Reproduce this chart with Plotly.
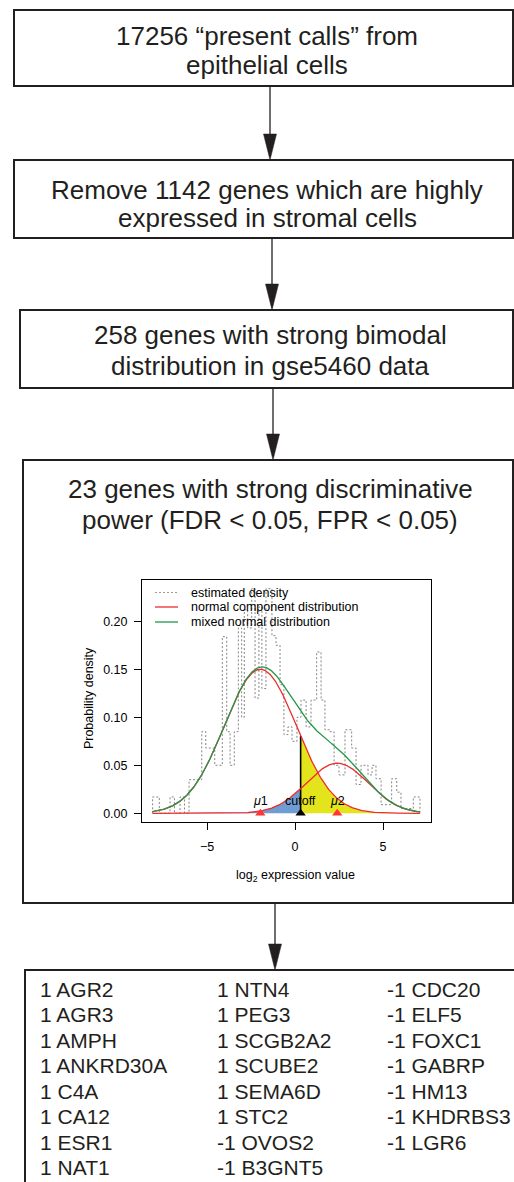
import numpy as np
import plotly.graph_objects as go

W, H = 514, 1182

# ---------------- data ----------------
box_lines = [
    ["17256 “present calls” from", "epithelial cells"],
    ["Remove 1142 genes which are highly", "expressed in stromal cells"],
    ["258 genes with strong bimodal", "distribution in gse5460 data"],
    ["23 genes with strong discriminative", "power (FDR < 0.05, FPR < 0.05)"],
]
genes_col1 = ["1 AGR2", "1 AGR3", "1 AMPH", "1 ANKRD30A", "1 C4A", "1 CA12", "1 ESR1", "1 NAT1"]
genes_col2 = ["1 NTN4", "1 PEG3", "1 SCGB2A2", "1 SCUBE2", "1 SEMA6D", "1 STC2", "-1 OVOS2", "-1 B3GNT5"]
genes_col3 = ["-1 CDC20", "-1 ELF5", "-1 FOXC1", "-1 GABRP", "-1 HM13", "-1 KHDRBS3", "-1 LGR6"]

legend_labels = ["estimated density", "normal component distribution", "mixed normal distribution"]

# estimated density (step outline): bin edges and heights
hist_edges = [-8.09, -7.71, -7.10, -6.85, -6.53, -6.28, -6.02, -5.30, -5.07, -4.56, -4.13,
              -3.88, -3.69, -3.45, -3.22, -3.03, -2.88, -2.69, -2.46, -2.27, -2.05, -1.88,
              -1.65, -1.31, -1.08, -0.85, -0.63, -0.40, -0.17, 0.11, 0.34, 0.63, 0.91, 1.23,
              1.48, 1.70, 1.99, 2.22, 2.50, 2.84, 3.22, 3.47, 3.75, 4.15, 4.38, 4.60, 4.89,
              5.49, 5.78, 6.02, 6.72, 7.10]
hist_heights = [0.017, 0, 0.017, 0, 0.017, 0, 0.035, 0.085, 0.068, 0.050, 0.184, 0.085,
                0.050, 0.085, 0.193, 0.100, 0.212, 0.193, 0.234, 0.120, 0.215, 0.130, 0.234,
                0.185, 0.175, 0.134, 0.082, 0.090, 0.075, 0.100, 0.118, 0.090, 0.118, 0.168,
                0.118, 0.087, 0.085, 0.050, 0.040, 0.087, 0.068, 0.030, 0.050, 0.040, 0.050,
                0.036, 0.009, 0.036, 0.022, 0.005, 0.017]

# fitted two-component normal mixture
mu1, sd1, w1 = -1.97, 2.05, 0.771
mu2, sd2, w2 = 2.40, 1.75, 0.229
cutoff = 0.32
x_min, x_max = -8.1, 7.1

x_ticks = [-5, 0, 5]
x_ticktext = ["\u22125", "0", "5"]
y_ticks = [0.00, 0.05, 0.10, 0.15, 0.20]

# ---------------- styling ----------------
FONT = "Liberation Sans, Arial, Helvetica, sans-serif"
INK = "#231f20"
RED = "#ee2b2b"
GREEN = "#23984a"
BLUE = "#6f9cd3"
YELLOW = "#e4e41d"
GREY = "#858585"


def px(x):
    return x / W


def py(y):
    return 1 - y / H


def npdf(x, m, s, w):
    return w * np.exp(-0.5 * ((x - m) / s) ** 2) / (s * np.sqrt(2 * np.pi))


xs = np.linspace(x_min, x_max, 600)
c1 = npdf(xs, mu1, sd1, w1)
c2 = npdf(xs, mu2, sd2, w2)
mix = c1 + c2

fig = go.Figure()

# fills
xl = np.linspace(x_min, cutoff, 200)
fig.add_trace(go.Scatter(x=xl, y=npdf(xl, mu2, sd2, w2), fill="tozeroy", fillcolor=BLUE,
                         mode="lines", line=dict(width=0), showlegend=False, hoverinfo="skip"))
xr = np.linspace(cutoff, x_max, 300)
fig.add_trace(go.Scatter(x=xr, y=npdf(xr, mu1, sd1, w1), fill="tozeroy", fillcolor=YELLOW,
                         mode="lines", line=dict(width=0), showlegend=False, hoverinfo="skip"))

# estimated density step outline
hx = [hist_edges[0]] + list(hist_edges)
hy = [0] + list(hist_heights) + [0]
fig.add_trace(go.Scatter(x=hx, y=hy, mode="lines",
                         line=dict(color=GREY, width=1, dash="2px,2px", shape="hv"),
                         name=legend_labels[0], showlegend=False))

# cutoff vertical
fig.add_trace(go.Scatter(x=[cutoff, cutoff], y=[0, float(npdf(cutoff, mu1, sd1, w1))], mode="lines",
                         line=dict(color="black", width=1.6), showlegend=False))

# normal components
fig.add_trace(go.Scatter(x=xs, y=c1, mode="lines", line=dict(color=RED, width=1.3),
                         name=legend_labels[1], showlegend=False))
fig.add_trace(go.Scatter(x=xs, y=c2, mode="lines", line=dict(color=RED, width=1.3), showlegend=False))
# mixture
fig.add_trace(go.Scatter(x=xs, y=mix, mode="lines", line=dict(color=GREEN, width=1.3),
                         name=legend_labels[2], showlegend=False))

# triangles
fig.add_trace(go.Scatter(x=[mu1, mu2], y=[0, 0], mode="markers",
                         marker=dict(symbol="triangle-up", size=9, color="#ff3535", line=dict(width=0)),
                         showlegend=False, cliponaxis=False))
fig.add_trace(go.Scatter(x=[cutoff], y=[0], mode="markers",
                         marker=dict(symbol="triangle-up", size=9, color="black", line=dict(width=0)),
                         showlegend=False, cliponaxis=False))

annotations = []
for lab, xv in [("<i>μ</i>1", mu1), ("cutoff", cutoff), ("<i>μ</i>2", mu2)]:
    annotations.append(dict(x=xv, y=0, xref="x", yref="y", text=lab, showarrow=False,
                            yanchor="bottom", yshift=3, font=dict(size=12.5, color="black", family=FONT)))

shapes = []

# legend (drawn inside the plot box, R style)
leg_y = [592.5, 607, 622]
leg_style = [dict(color="#9a9a9a", width=1, dash="2px,2px"), dict(color=RED, width=1.3),
             dict(color=GREEN, width=1.3)]
for lab, yy, st in zip(legend_labels, leg_y, leg_style):
    shapes.append(dict(type="line", xref="paper", yref="paper", x0=px(155), x1=px(178),
                       y0=py(yy), y1=py(yy), line=st))
    annotations.append(dict(x=px(189), y=py(yy), xref="paper", yref="paper", text=lab, showarrow=False,
                            xanchor="left", yanchor="middle", font=dict(size=12.5, color="black", family=FONT)))

# ---------------- flowchart ----------------
boxes = [(14, 10, 513, 86), (14, 160, 513, 238), (20, 310, 513, 388), (23, 460, 513, 903)]
for (x0, y0, x1, y1) in boxes:
    shapes.append(dict(type="rect", xref="paper", yref="paper", x0=px(x0), x1=px(x1), y0=py(y1), y1=py(y0),
                       line=dict(color=INK, width=2), fillcolor="rgba(0,0,0,0)", layer="below"))
# last box (runs off the bottom)
shapes.append(dict(type="path", xref="paper", yref="paper",
                   path=f"M {px(25)},{py(1190)} L {px(25)},{py(970)} L {px(515)},{py(970)}",
                   line=dict(color=INK, width=2)))

arrows = [(270, 86, 160), (272, 238, 310), (273, 388, 460), (275, 903, 970)]
for (ax, ya, yb) in arrows:
    shapes.append(dict(type="line", xref="paper", yref="paper", x0=px(ax), x1=px(ax), y0=py(ya), y1=py(yb - 20),
                       line=dict(color=INK, width=1.3)))
    shapes.append(dict(type="path", xref="paper", yref="paper",
                       path=f"M {px(ax-6.5)},{py(yb-26)} L {px(ax+6.5)},{py(yb-26)} L {px(ax)},{py(yb)} Z",
                       fillcolor=INK, line=dict(color=INK, width=0.5)))

text_centers = [(267, 36, 65), (267, 190, 218), (270, 335, 366), (270, 489, 520)]
for lines, (cx, ya, yb) in zip(box_lines, text_centers):
    for t, yy in zip(lines, (ya, yb)):
        annotations.append(dict(x=px(cx), y=py(yy), xref="paper", yref="paper", text=t, showarrow=False,
                                xanchor="center", yanchor="middle",
                                font=dict(size=26, color=INK, family=FONT)))

row0, drow = 989, 25.5
for col, cx in [(genes_col1, 38), (genes_col2, 215), (genes_col3, 385)]:
    for i, g in enumerate(col):
        annotations.append(dict(x=px(cx), y=py(row0 + i * drow), xref="paper", yref="paper", text=g,
                                showarrow=False, xanchor="left", yanchor="middle",
                                font=dict(size=21, color=INK, family=FONT)))

# axis titles
annotations.append(dict(x=0, y=py(876), xref="x", yref="paper", text="log<sub>2</sub> expression value",
                        showarrow=False, xanchor="center", yanchor="middle",
                        font=dict(size=12.5, color="black", family=FONT)))
annotations.append(dict(x=px(89), y=0.12, xref="paper", yref="y", text="Probability density",
                        showarrow=False, textangle=-90, xanchor="center", yanchor="middle",
                        font=dict(size=12.5, color="black", family=FONT)))

L, R, T, B = 142, 431, 580, 822
ppx = (R - L)
x_per_px = 16.42 / ppx
x0_rng = -8.693
y_per_px = 0.05 / 48.0
y0_rng = -(B - 813.3) * y_per_px
fig.update_layout(
    width=W, height=H, margin=dict(l=0, r=0, t=0, b=0),
    paper_bgcolor="white", plot_bgcolor="white",
    font=dict(family=FONT, color="black", size=12.5),
    showlegend=False,
    xaxis=dict(domain=[px(L), px(R)], range=[x0_rng, x0_rng + ppx * x_per_px],
               tickvals=x_ticks, ticktext=x_ticktext, ticks="outside", ticklen=7, tickcolor="black",
               showline=True, mirror=True, linecolor="black", linewidth=1, showgrid=False, zeroline=False,
               tickfont=dict(size=12.5), ticklabelstandoff=6),
    yaxis=dict(domain=[py(B), py(T)], range=[y0_rng, y0_rng + (B - T) * y_per_px],
               tickvals=y_ticks, tickformat=".2f", ticks="outside", ticklen=7, tickcolor="black",
               showline=True, mirror=True, linecolor="black", linewidth=1, showgrid=False, zeroline=False,
               tickfont=dict(size=12.5), ticklabelstandoff=4),
    shapes=shapes, annotations=annotations,
)

fig.write_html("out.html", config={"displayModeBar": False, "staticPlot": True},
               post_script="document.body.style.margin='0';document.body.style.overflow='hidden';"
                           "document.documentElement.style.overflow='hidden';")
